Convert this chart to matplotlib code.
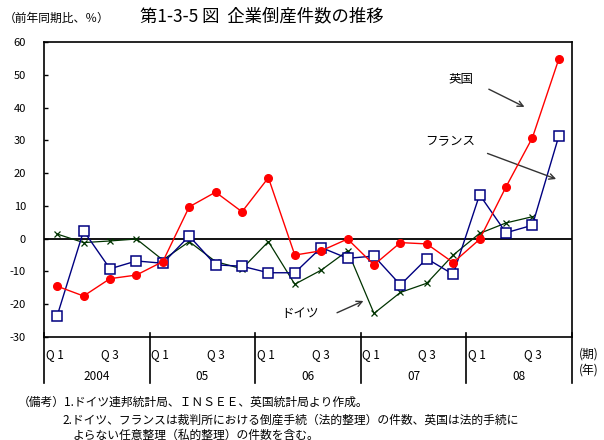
import matplotlib
matplotlib.use("Agg")
import matplotlib.pyplot as plt
import matplotlib.transforms as mtransforms

plt.rcParams['font.family'] = ['Noto Sans CJK JP', 'DejaVu Sans']

years = ["2004", "05", "06", "07", "08"]
quarter_labels = ["Q 1", "Q 3"]
uk = [-14.5, -17.5, -12.2, -11.1, -7.0, 9.7, 14.2, 8.2, 18.6, -5.0,
      -3.7, -0.1, -8.0, -1.2, -1.6, -7.3, -0.2, 15.8, 30.8, 54.8]
france = [-23.5, 2.4, -9.2, -6.8, -7.5, 0.8, -8.0, -8.4, -10.4, -10.4,
          -2.7, -6.0, -5.3, -14.1, -6.1, -10.9, 13.4, 1.8, 4.1, 31.3]
germany = [1.4, -1.2, -0.7, -0.1, -6.5, -0.9, -7.0, -9.2, -0.9, -13.9,
           -9.6, -3.7, -22.8, -16.4, -13.6, -5.0, 1.6, 4.8, 6.7]
yticks = [-30, -20, -10, 0, 10, 20, 30, 40, 50, 60]

fig = plt.figure(figsize=(6.04, 4.40), dpi=100)
ax = fig.add_axes([44/604, 1-337/440, (572-44)/604, (337-42)/440])

xg = list(range(len(germany)))
xf = list(range(len(france)))
xu = list(range(len(uk)))

ax.axhline(0, color='black', lw=1.3, zorder=1)
ax.plot(xg, germany, color='#003300', lw=0.9, marker='x', ms=4.5, mew=0.9,
        mec='#003300', zorder=2)
ax.plot(xf, france, color='#000080', lw=1.0, marker='s', ms=7, mew=1.1,
        mfc='white', mec='#000080', zorder=3)
ax.plot(xu, uk, color='#ff0000', lw=1.0, marker='o', ms=5.5, mfc='#ff0000',
        mec='#ff0000', zorder=4)

ax.set_xlim(-0.5, 19.5)
ax.set_ylim(-30, 60)
ax.set_yticks(yticks)
ax.set_yticklabels([str(v) for v in yticks], fontsize=8)
ax.tick_params(axis='y', direction='in', length=3, width=1, pad=13)
ax.set_xticks([])
for s in ax.spines.values():
    s.set_linewidth(1.2)

# separators / quarter & year labels
trans = mtransforms.blended_transform_factory(ax.transData, ax.transAxes)
for k in range(len(years) + 1):
    xs = 4 * k - 0.5
    ax.plot([xs, xs], [0.012, -0.157], transform=trans, color='black',
            lw=1.2, clip_on=False)
for k, yr in enumerate(years):
    ax.text(4 * k - 0.1, -0.06, quarter_labels[0], transform=trans,
            ha='center', va='center', fontsize=8.5)
    ax.text(4 * k + 2.0, -0.06, quarter_labels[1], transform=trans,
            ha='center', va='center', fontsize=8.5)
    ax.text(4 * k + 1.5, -0.133, yr, transform=trans,
            ha='center', va='center', fontsize=8.5)

fig.text(579/604, 1-354/440, "(期)", ha='left', va='center', fontsize=8.5)
fig.text(579/604, 1-370/440, "(年)", ha='left', va='center', fontsize=8.5)

# annotations
arrow = dict(arrowstyle='->', color='#333333', lw=1.0, shrinkA=0, shrinkB=0)
ax.annotate("", xy=(17.7, 40.2), xytext=(16.35, 45.6), arrowprops=arrow)
ax.text(15.3, 48.7, "英国", ha='center', va='center', fontsize=9)
ax.annotate("", xy=(18.9, 18.2), xytext=(16.3, 26.0), arrowprops=arrow)
ax.text(14.9, 29.5, "フランス", ha='center', va='center', fontsize=9)
ax.annotate("", xy=(11.6, -19.0), xytext=(10.6, -22.6), arrowprops=arrow)
ax.text(9.2, -22.9, "ドイツ", ha='center', va='center', fontsize=9)

fig.text(262/604, 1-16/440, "第1-3-5 図  企業倒産件数の推移",
         ha='center', va='center', fontsize=12.5)
fig.text(4/604, 1-18/440, "（前年同期比、％）", ha='left', va='center',
         fontsize=8.5)

fig.text(18/604, 1-402/440,
         "（備考）1.ドイツ連邦統計局、ＩＮＳＥＥ、英国統計局より作成。",
         ha='left', va='center', fontsize=8.5)
fig.text(62/604, 1-420/440,
         "2.ドイツ、フランスは裁判所における倒産手続（法的整理）の件数、英国は法的手続に",
         ha='left', va='center', fontsize=8.5)
fig.text(72/604, 1-435/440,
         "よらない任意整理（私的整理）の件数を含む。",
         ha='left', va='center', fontsize=8.5)

fig.savefig("out.png", dpi=100)
